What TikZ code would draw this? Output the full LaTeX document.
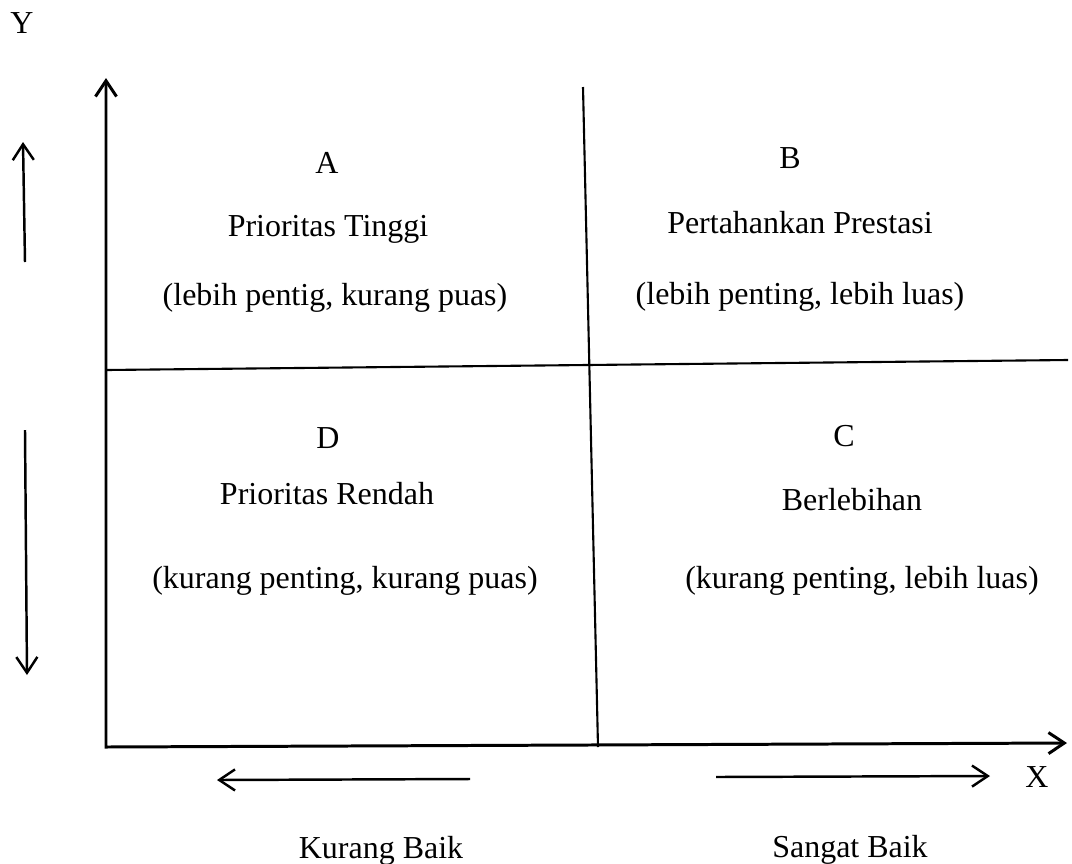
\documentclass[tikz,border=0pt]{standalone}
\usepackage{fontspec}
\setmainfont{Liberation Serif}
\usetikzlibrary{arrows.meta}

\tikzset{
  quadtext/.style={font=\fontsize{18.2}{22}\selectfont, anchor=base, inner sep=0pt},
  axisline/.style={line width=1.7pt, line join=miter},
  divline/.style={line width=1.2pt},
  dirarrow/.style={line width=1.4pt, -{Straight Barb[length=9pt,width=12pt]}}
}

\begin{document}
\begin{tikzpicture}[x=0.02cm, y=-0.02cm]
  \useasboundingbox (0,0) rectangle (1072,863);

  % Axes
  \coordinate (ytip) at (106,78);
  \coordinate (origin) at (106,747);
  \coordinate (xtip) at (1067,743);
  \draw[axisline, {Straight Barb[length=9pt,width=12pt]}-{Straight Barb[length=9pt,width=12pt]}]
    (ytip) -- (origin) -- (xtip);
  \node[quadtext] (ylabel) at (22,33) {Y};
  \node[quadtext] (xlabel) at (1037,787) {X};

  % Quadrant dividers
  \coordinate (vtop) at (583,87);
  \coordinate (vbot) at (598,747);
  \coordinate (hleft) at (106,370);
  \coordinate (hright) at (1068,360);
  \draw[divline] (vtop) -- (vbot);
  \draw[divline] (hleft) -- (hright);

  % Direction arrows beside the Y axis
  \coordinate (upfoot) at (25,262);
  \coordinate (uphead) at (23,142);
  \coordinate (downfoot) at (25,430);
  \coordinate (downhead) at (27,675);
  \draw[dirarrow] (upfoot) -- (uphead);
  \draw[dirarrow] (downfoot) -- (downhead);

  % Direction arrows under the X axis
  \coordinate (leftfoot) at (470,779);
  \coordinate (lefthead) at (217,780);
  \coordinate (rightfoot) at (716,777);
  \coordinate (righthead) at (990,776);
  \draw[dirarrow] (leftfoot) -- (lefthead);
  \draw[dirarrow] (rightfoot) -- (righthead);
  \node[quadtext] (kurang) at (381,858) {Kurang Baik};
  \node[quadtext] (sangat) at (850,857) {Sangat Baik};

  % Quadrant A
  \node[quadtext] (qa) at (327,173) {A};
  \node[quadtext] (qaname) at (328,236) {Prioritas Tinggi};
  \node[quadtext] (qanote) at (335,305) {(lebih pentig, kurang puas)};

  % Quadrant B
  \node[quadtext] (qb) at (790,168) {B};
  \node[quadtext] (qbname) at (800,233) {Pertahankan Prestasi};
  \node[quadtext] (qbnote) at (800,304) {(lebih penting, lebih luas)};

  % Quadrant D
  \node[quadtext] (qd) at (328,448) {D};
  \node[quadtext] (qdname) at (327,504) {Prioritas Rendah};
  \node[quadtext] (qdnote) at (345,588) {(kurang penting, kurang puas)};

  % Quadrant C
  \node[quadtext] (qc) at (844,446) {C};
  \node[quadtext] (qcname) at (852,510) {Berlebihan};
  \node[quadtext] (qcnote) at (862,588) {(kurang penting, lebih luas)};
\end{tikzpicture}
\end{document}
